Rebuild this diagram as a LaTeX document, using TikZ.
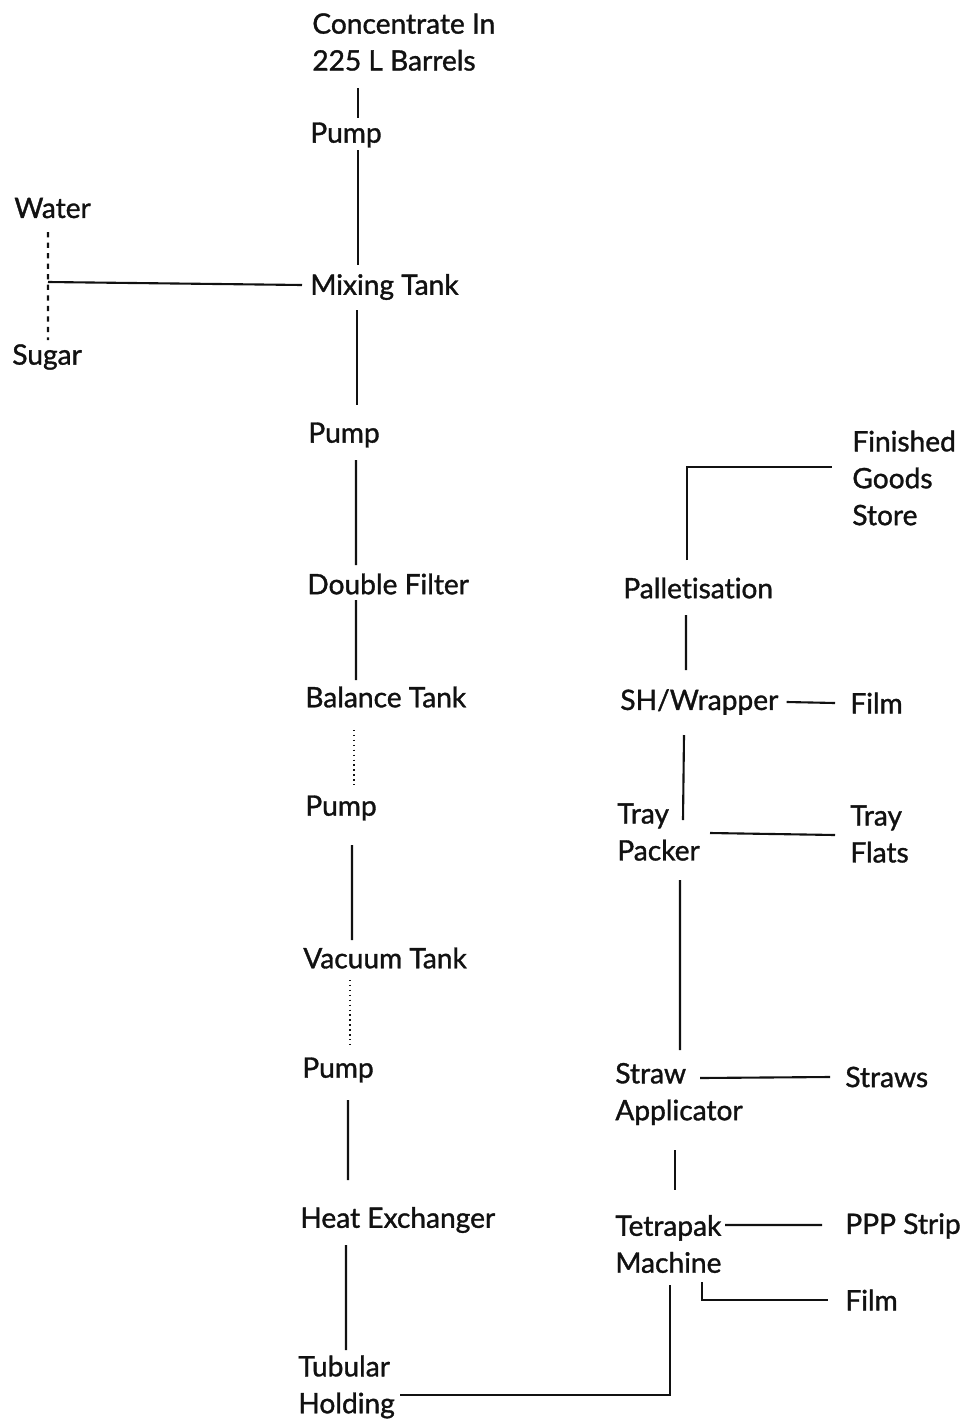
\documentclass[tikz,border=0pt]{standalone}
\usepackage{fontspec}
\setmainfont{Lato}[UprightFeatures={FakeBold=1.2}, Ligatures={NoCommon}]
\usepackage{xcolor}
\definecolor{flowInk}{HTML}{111111}

\begin{document}
\begin{tikzpicture}[
  lbl/.style={anchor=west, inner sep=0pt, align=left, text=flowInk,
    font=\fontsize{16}{21}\selectfont},
  flow/.style={draw=flowInk, line width=1.2pt},
  faint/.style={draw=flowInk, line width=0.8pt, dotted}]
  \useasboundingbox (0,0) rectangle (19.36,-28.46);
  \node[lbl] (conc) at (6.24,-0.84) {Concentrate In\\225 L Barrels};
  \node[lbl] (pumpA) at (6.20,-2.70) {Pump};
  \node[lbl] (mix) at (6.20,-5.74) {Mixing Tank};
  \node[lbl] (water) at (0.28,-4.16) {Water};
  \node[lbl] (sugar) at (0.24,-7.14) {Sugar};
  \node[lbl] (pumpB) at (6.16,-8.70) {Pump};
  \node[lbl] (filt) at (6.14,-11.68) {Double Filter};
  \node[lbl] (bal) at (6.10,-13.94) {Balance Tank};
  \node[lbl] (pumpC) at (6.10,-16.16) {Pump};
  \node[lbl] (vac) at (6.06,-19.16) {Vacuum Tank};
  \node[lbl] (pumpD) at (6.04,-21.40) {Pump};
  \node[lbl] (heat) at (6.00,-24.40) {Heat Exchanger};
  \node[lbl] (tub) at (5.96,-27.74) {Tubular\\Holding};
  \node[lbl] (tetra) at (12.30,-24.88) {Tetrapak\\Machine};
  \node[lbl] (ppp) at (16.90,-24.52) {PPP Strip};
  \node[lbl] (filmB) at (16.90,-26.00) {Film};
  \node[lbl] (straw) at (12.30,-21.88) {Straw\\Applicator};
  \node[lbl] (straws) at (16.90,-21.54) {Straws};
  \node[lbl] (tray) at (12.34,-16.64) {Tray\\Packer};
  \node[lbl] (flats) at (17.00,-16.68) {Tray\\Flats};
  \node[lbl] (wrap) at (12.40,-14.04) {SH/Wrapper};
  \node[lbl] (filmA) at (17.00,-14.06) {Film};
  \node[lbl] (pall) at (12.46,-11.76) {Palletisation};
  \node[lbl] (store) at (17.04,-9.56) {Finished\\Goods\\Store};
  \coordinate (ws) at (0.96,-5.64);

  \draw[flow] ([xshift=0.92cm,yshift=-0.92cm]conc.west) -- ([xshift=0.96cm,yshift=0.34cm]pumpA.west);
  \draw[flow] ([xshift=0.96cm,yshift=-0.30cm]pumpA.west) -- ([xshift=0.96cm,yshift=0.44cm]mix.west);
  \draw[flow, dashed] ([xshift=0.68cm,yshift=-0.48cm]water.west) -- ([xshift=0.72cm,yshift=0.34cm]sugar.west);
  \draw[flow] (ws) -- ([xshift=-0.16cm,yshift=0.04cm]mix.west);
  \draw[flow] ([xshift=0.94cm,yshift=-0.46cm]mix.west) -- ([xshift=0.98cm,yshift=0.60cm]pumpB.west);
  \draw[flow] ([xshift=0.96cm,yshift=-0.50cm]pumpB.west) -- ([xshift=0.98cm,yshift=0.38cm]filt.west);
  \draw[flow] ([xshift=0.98cm,yshift=-0.32cm]filt.west) -- ([xshift=1.02cm,yshift=0.34cm]bal.west);
  \draw[faint] ([xshift=0.98cm,yshift=-0.66cm]bal.west) -- ([xshift=0.98cm,yshift=0.46cm]pumpC.west);
  \draw[flow] ([xshift=0.94cm,yshift=-0.74cm]pumpC.west) -- ([xshift=0.98cm,yshift=0.36cm]vac.west);
  \draw[faint] ([xshift=0.94cm,yshift=-0.44cm]vac.west) -- ([xshift=0.96cm,yshift=0.50cm]pumpD.west);
  \draw[flow] ([xshift=0.92cm,yshift=-0.60cm]pumpD.west) -- ([xshift=0.96cm,yshift=0.80cm]heat.west);
  \draw[flow] ([xshift=0.92cm,yshift=-0.50cm]heat.west) -- ([xshift=0.96cm,yshift=0.74cm]tub.west);
  \draw[flow] ([xshift=0.10cm,yshift=-0.16cm]tub.east) -| ([xshift=1.10cm,yshift=-0.82cm]tetra.west);
  \draw[flow] ([xshift=2.20cm,yshift=0.38cm]tetra.west) -- ([xshift=-0.46cm,yshift=0.02cm]ppp.west);
  \draw[flow] ([xshift=1.74cm,yshift=-0.76cm]tetra.west) |- ([xshift=-0.34cm]filmB.west);
  \draw[flow] ([xshift=1.20cm,yshift=-1.12cm]straw.west) -- ([xshift=1.20cm,yshift=1.08cm]tetra.west);
  \draw[flow] ([xshift=1.70cm,yshift=0.32cm]straw.west) -- ([xshift=-0.30cm]straws.west);
  \draw[flow] ([xshift=1.26cm,yshift=-0.96cm]tray.west) -- ([xshift=1.30cm,yshift=0.88cm]straw.west);
  \draw[flow] ([xshift=1.86cm,yshift=-0.02cm]tray.west) -- ([xshift=-0.30cm,yshift=-0.02cm]flats.west);
  \draw[flow] ([xshift=1.28cm,yshift=-0.66cm]wrap.west) -- ([xshift=1.32cm,yshift=0.24cm]tray.west);
  \draw[flow] ([xshift=0.16cm]wrap.east) -- ([xshift=-0.30cm]filmA.west);
  \draw[flow] ([xshift=1.26cm,yshift=-0.54cm]pall.west) -- ([xshift=1.32cm,yshift=0.64cm]wrap.west);
  \draw[flow] ([xshift=1.28cm,yshift=0.56cm]pall.west) |- ([xshift=-0.40cm,yshift=0.22cm]store.west);
\end{tikzpicture}
\end{document}
